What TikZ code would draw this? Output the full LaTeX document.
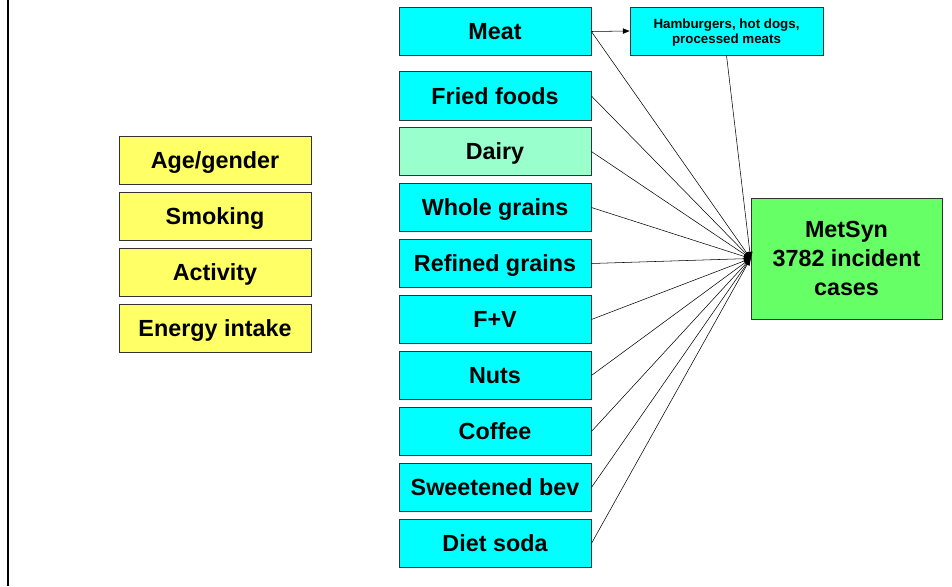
\documentclass[tikz,border=0pt]{standalone}
\usepackage{fontspec}
\setmainfont{Liberation Sans}
\usetikzlibrary{arrows.meta}
\definecolor{foodcyan}{HTML}{00FFFF}
\definecolor{dairygreen}{HTML}{99FFCC}
\definecolor{covyellow}{HTML}{FFFF66}
\definecolor{metgreen}{HTML}{66FF66}
\begin{document}
\begin{tikzpicture}
  [x=0.75pt,y=-0.75pt,
   every node/.style={draw=black!80,line width=0.6pt,rectangle,inner sep=0pt,
     align=center,text depth=0pt,font=\fontsize{17.5}{21}\selectfont\bfseries},
   food/.style={fill=foodcyan,minimum width=144pt,minimum height=36.5pt},
   cov/.style={fill=covyellow,minimum width=144pt,minimum height=36pt},
   link/.style={-{Triangle[length=5pt,width=4pt]}}]
  \useasboundingbox (0,0) rectangle (952,586);
  \draw[line width=1.5pt] (8,0) -- (8,586);

  \node[cov] (age) at (215,160) {Age/gender};
  \node[cov] (smoke) at (215,216) {Smoking};
  \node[cov] (act) at (215,272) {Activity};
  \node[cov] (energy) at (215,328) {Energy intake};

  \node[food] (meat) at (495,31.5) {Meat};
  \node[food] (fried) at (495,96) {Fried foods};
  \node[food,fill=dairygreen] (dairy) at (495,151.5) {Dairy};
  \node[food] (whole) at (495,207.5) {Whole grains};
  \node[food] (refined) at (495,263.5) {Refined grains};
  \node[food] (fv) at (495,319.5) {F+V};
  \node[food] (nuts) at (495,375.5) {Nuts};
  \node[food] (coffee) at (495,431.5) {Coffee};
  \node[food] (sweet) at (495,487.5) {Sweetened bev};
  \node[food] (diet) at (495,543.5) {Diet soda};

  \node[fill=foodcyan,minimum width=144.75pt,minimum height=36pt,
    font=\fontsize{10}{11.25}\selectfont\bfseries] (ham) at (726.5,31)
    {Hamburgers, hot dogs,\\processed meats};
  \node[fill=metgreen,minimum width=143.25pt,minimum height=90.75pt,
    font=\fontsize{17.5}{21.5}\selectfont\bfseries] (met) at (846.5,258.5)
    {MetSyn\\3782 incident\\cases};


  \draw[link] (meat.east) -- (ham.west);
  \draw[link] (meat.east) -- (met.west);
  \draw[link] (ham.south) -- (met.west);
  \draw[link] (fried.east) -- (met.west);
  \draw[link] (dairy.east) -- (met.west);
  \draw[link] (whole.east) -- (met.west);
  \draw[link] (refined.east) -- (met.west);
  \draw[link] (fv.east) -- (met.west);
  \draw[link] (nuts.east) -- (met.west);
  \draw[link] (coffee.east) -- (met.west);
  \draw[link] (sweet.east) -- (met.west);
  \draw[link] (diet.east) -- (met.west);

\end{tikzpicture}
\end{document}
